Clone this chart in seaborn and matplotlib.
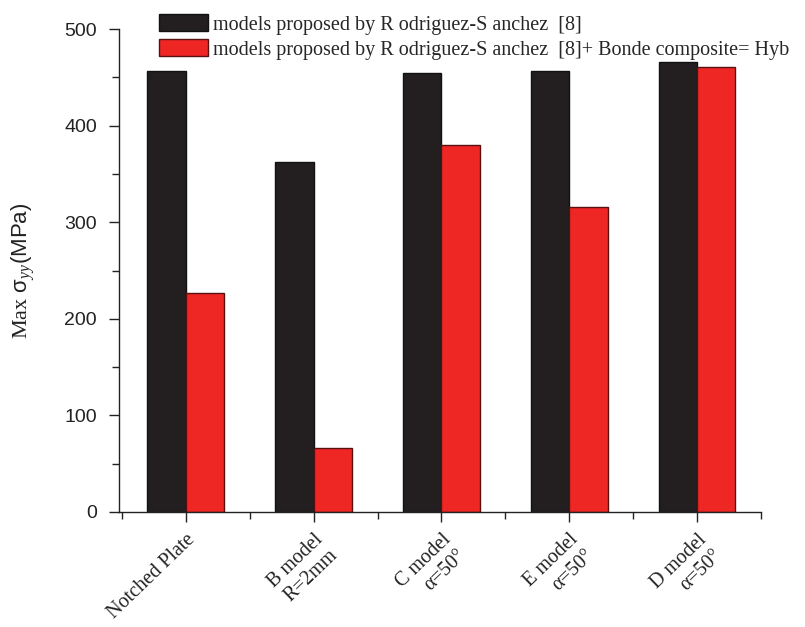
import matplotlib
matplotlib.use("Agg")
import matplotlib.pyplot as plt
import seaborn as sns
import pandas as pd
from matplotlib.patches import Patch
from matplotlib.ticker import MultipleLocator

categories = ["Notched Plate", "B model\nR=2mm", "C model\nα=50°", "E model\nα=50°", "D model\nα=50°"]
series_names = ["models proposed by Rodriguez-Sanchez  [8]",
                "models proposed by Rodriguez-Sanchez  [8]+ Bonde composite= Hyb"]
legend_labels = ["models proposed by R odriguez-S anchez  [8]",
                 "models proposed by R odriguez-S anchez  [8]+ Bonde composite= Hyb"]
base_values = [457, 362, 454, 457, 466]
hybrid_values = [227, 66, 380, 316, 461]

colors = ["#231f20", "#ee2724"]
edges = ["#111111", "#5a1010"]

sns.set_theme(style="ticks")
plt.rcParams['font.family'] = ['Liberation Sans', 'DejaVu Sans']
plt.rcParams['mathtext.fontset'] = 'custom'
plt.rcParams['mathtext.rm'] = 'Liberation Serif'
plt.rcParams['mathtext.it'] = 'Liberation Serif:italic'

df = pd.DataFrame({
    "cat": categories * 2,
    "series": [series_names[0]] * len(categories) + [series_names[1]] * len(categories),
    "val": base_values + hybrid_values,
})

fig = plt.figure(figsize=(8.05, 6.27), dpi=100)
ax = fig.add_axes([119.3 / 805, 1 - 512 / 627, (761 - 119.3) / 805, (512 - 29) / 627])

sns.barplot(data=df, x="cat", y="val", hue="series", palette=colors,
            width=0.6, ax=ax, legend=False, saturation=1)

for i, container in enumerate(ax.containers):
    for bar in container:
        bar.set_edgecolor(edges[i])
        bar.set_linewidth(1.0)

ax.set_xlim(-0.52, 4.49)
ax.set_ylim(0, 500)
ax.yaxis.set_major_locator(MultipleLocator(100))
ax.yaxis.set_minor_locator(MultipleLocator(50))
ax.set_xticks(range(len(categories)))
ax.set_xticks([i + 0.5 for i in range(-1, len(categories))], minor=True)
sns.despine(ax=ax)
for s in ["left", "bottom"]:
    ax.spines[s].set_color("#222222")
    ax.spines[s].set_linewidth(1.0)

ax.tick_params(axis="both", which="major", direction="out", length=7, width=1, color="#222222")
ax.tick_params(axis="both", which="minor", direction="out", length=5, width=1, color="#222222")
ax.tick_params(axis="y", labelsize=14, labelcolor="#222222", pad=9)

ax.set_xticklabels(categories, rotation=44, ha="right", va="top",
                   rotation_mode="anchor", multialignment="right",
                   fontsize=14.5, family=["Liberation Serif", "DejaVu Serif"], color="#222222")
ax.tick_params(axis="x", pad=6)

ax.set_xlabel("")
ax.set_ylabel(r"$\mathrm{Max}$ σ$_{yy}$(MPa)", fontsize=16, color="#222222", labelpad=20)

handles = [Patch(facecolor=colors[0], edgecolor=edges[0]),
           Patch(facecolor=colors[1], edgecolor=edges[1])]
fig.legend(handles, legend_labels, loc="upper left", bbox_to_anchor=(149 / 805, 1 - 4 / 627),
           frameon=False, borderpad=0, handlelength=2.45, handleheight=0.95,
           labelspacing=0.22, handletextpad=0.25,
           prop={"family": "Liberation Serif", "size": 14.5})

fig.savefig("out.png", dpi=100)
